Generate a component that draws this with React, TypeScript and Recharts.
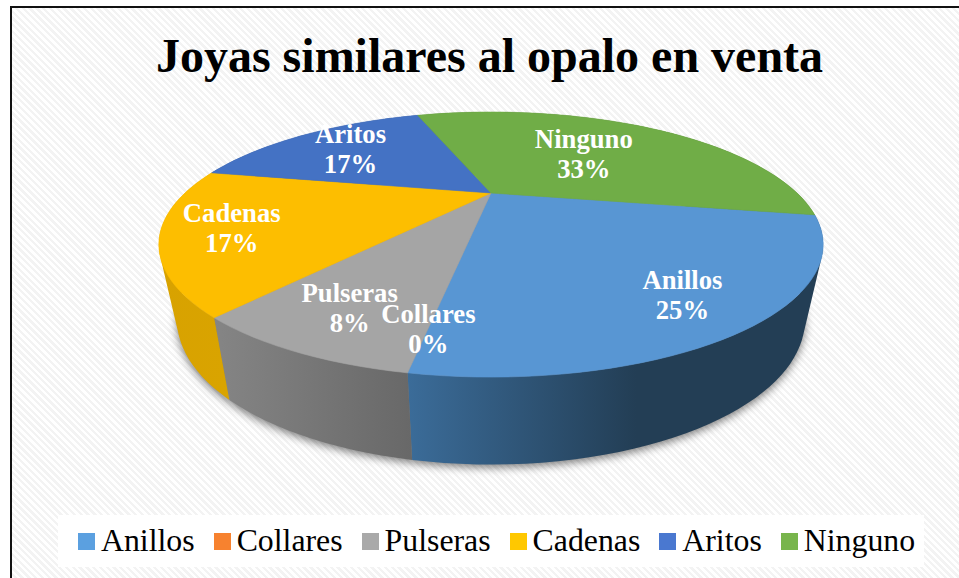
import React from 'react';
import { Legend, Pie, PieChart } from 'recharts';

const categories = ['Anillos', 'Collares', 'Pulseras', 'Cadenas', 'Aritos', 'Ninguno'];
const values = [24.8, 0, 8.2, 17.2, 16.6, 33.2];
const topColors = ['#5896d3', '#ed7d31', '#a5a5a5', '#fdbe00', '#4472c4', '#70ad47'];
const legendColors = ['#5ba0e0', '#f7822f', '#a9a9a9', '#ffc800', '#4a78d0', '#78b54c'];
const wallColors = ['url(#wallBlue)', '#8a4a1c', 'url(#wallGray)', 'url(#wallYellow)', '#2a4475', '#43682b'];
const labelRadius = [0.81, 0.83, 0.8, 0.805, 0.72, 0.54];

const tableData = categories.map((name, i) => ({
  name,
  value: values[i],
  fill: topColors[i],
  wall: wallColors[i],
  legendColor: legendColors[i],
}));

const SERIF = '"Liberation Serif", "Times New Roman", serif';
const RAD = Math.PI / 180;

// perspective of the tilted disc
const TILT = 0.3676;
const NEAR = 0.389;
// lower rim of the disc, relative to the upper one
const WALL_SCALE_X = 0.945;
const WALL_SCALE_Y = 1.09;
const WALL_SHIFT_Y = 53.5;

function project(cx, cy, radius, angle, r = 1) {
  const ux = Math.cos(angle * RAD) * r;
  const uy = -Math.sin(angle * RAD) * r;
  const d = 1 - NEAR * uy;
  return { x: cx + (radius * ux) / d, y: cy + (radius * TILT * uy) / d };
}

function lower(p, cx) {
  return {
    x: cx + (p.x - cx) * WALL_SCALE_X,
    y: p.y * WALL_SCALE_Y + WALL_SHIFT_Y,
  };
}

function rim(props) {
  const { cx, cy, outerRadius, startAngle, endAngle } = props;
  const steps = Math.max(1, Math.ceil(Math.abs(endAngle - startAngle) / 2));
  const pts = [];
  for (let i = 0; i <= steps; i++) {
    pts.push(project(cx, cy, outerRadius, startAngle + ((endAngle - startAngle) * i) / steps));
  }
  return pts;
}

const toPath = (pts) => 'M' + pts.map((p) => `${p.x.toFixed(2)},${p.y.toFixed(2)}`).join('L') + 'Z';

// signed area, used to give every wall quad the same winding
function area(pts) {
  let sum = 0;
  pts.forEach((p, i) => {
    const q = pts[(i + 1) % pts.length];
    sum += p.x * q.y - q.x * p.y;
  });
  return sum;
}

const isEmpty = (props) => Math.abs(props.endAngle - props.startAngle) < 0.01;

const TopFace = (props) => {
  if (isEmpty(props)) return null;
  const pts = rim(props);
  return (
    <path
      d={toPath([{ x: props.cx, y: props.cy }, ...pts])}
      fill={props.fill}
      stroke={props.fill}
      strokeWidth={0.6}
    />
  );
};

const Wall = (props) => {
  if (isEmpty(props)) return null;
  const pts = rim(props);
  const low = pts.map((p) => lower(p, props.cx));
  const quads = [];
  for (let i = 0; i < pts.length - 1; i++) {
    const quad = [pts[i], pts[i + 1], low[i + 1], low[i]];
    quads.push(toPath(area(quad) < 0 ? quad.reverse() : quad));
  }
  return <path d={quads.join('')} fill={props.wall ?? props.payload?.wall} />;
};

// soft shadow, only the lower rim disc so it never shows behind the top face
const Shadow = (props) => {
  if (isEmpty(props)) return null;
  const low = rim(props).map((p) => lower(p, props.cx));
  const centre = lower({ x: props.cx, y: props.cy }, props.cx);
  return (
    <path
      d={toPath([centre, ...low])}
      fill="#000"
      fillOpacity={0.5}
      transform="translate(0,3)"
      filter="url(#pieShadow)"
    />
  );
};

const renderLabel = (props) => {
  const { cx, cy, outerRadius, midAngle, percent, name, index } = props;
  const p = project(cx, cy, outerRadius, midAngle, labelRadius[index]);
  return (
    <text
      x={p.x}
      textAnchor="middle"
      fill="#fff"
      fontFamily={SERIF}
      fontWeight="bold"
      fontSize={26.7}
    >
      <tspan x={p.x} y={p.y - 5}>{name}</tspan>
      <tspan x={p.x} y={p.y + 25}>{`${Math.round(percent * 100)}%`}</tspan>
    </text>
  );
};

const renderLegend = ({ payload }) => {
  // every Pie adds its own entries, keep one per category
  const items = categories.map((name) => (payload ?? []).find((entry) => entry.value === name)).filter(Boolean);
  return (
    <div
      style={{
        display: 'flex',
        alignItems: 'center',
        boxSizing: 'border-box',
        height: 52,
        paddingLeft: 20,
        background: '#fff',
        fontFamily: SERIF,
        fontSize: 31.8,
        color: '#000',
        whiteSpace: 'nowrap',
      }}
    >
      {items.map((entry) => (
        <span key={entry.value} style={{ display: 'flex', alignItems: 'center', marginRight: 19 }}>
          <span
            style={{
              width: 17,
              height: 17,
              marginRight: 6,
              background: entry.payload?.legendColor ?? entry.color,
            }}
          />
          {entry.value}
        </span>
      ))}
    </div>
  );
};

export default function App() {
  return (
    <div style={{ position: 'absolute', left: 0, top: 0, width: 959, height: 578, overflow: 'hidden', background: '#fff' }}>
      <div
        style={{
          position: 'absolute',
          left: 10,
          top: 6,
          width: 960,
          height: 580,
          boxSizing: 'border-box',
          borderLeft: '2px solid #111',
          borderTop: '2px solid #111',
          background: 'repeating-linear-gradient(45deg, #ffffff 0, #ffffff 2.4px, #f3f3f3 2.4px, #f3f3f3 4.8px)',
        }}
      />
      <div
        style={{
          position: 'absolute',
          left: 0,
          top: 26,
          width: 979,
          textAlign: 'center',
          fontFamily: SERIF,
          fontWeight: 'bold',
          fontSize: 48,
          lineHeight: '60px',
          color: '#000',
        }}
      >
        Joyas similares al opalo en venta
      </div>
      <div style={{ position: 'absolute', left: 0, top: 0 }}>
        <PieChart width={959} height={578} margin={{ top: 0, right: 0, bottom: 0, left: 0 }}>
          <defs>
            <linearGradient id="wallBlue" x1="0" y1="0" x2="1" y2="0">
              <stop offset="0%" stopColor="#3b6c99" />
              <stop offset="55%" stopColor="#233e55" />
              <stop offset="100%" stopColor="#233e55" />
            </linearGradient>
            <linearGradient id="wallGray" x1="0" y1="0" x2="1" y2="0">
              <stop offset="0%" stopColor="#858585" />
              <stop offset="100%" stopColor="#686868" />
            </linearGradient>
            <linearGradient id="wallYellow" x1="0" y1="0" x2="1" y2="0">
              <stop offset="0%" stopColor="#d8a200" />
              <stop offset="100%" stopColor="#d9a400" />
            </linearGradient>
            <filter id="pieShadow" x="-30%" y="-30%" width="160%" height="160%">
              <feGaussianBlur stdDeviation="4" />
            </filter>
          </defs>
          <Pie
            data={tableData}
            dataKey="value"
            nameKey="name"
            cx={491}
            cy={193}
            outerRadius={306}
            startAngle={-10.4}
            endAngle={-370.4}
            stroke="none"
            legendType="none"
            shape={Shadow}
            isAnimationActive={false}
          />
          <Pie
            data={tableData}
            dataKey="value"
            nameKey="name"
            cx={491}
            cy={193}
            outerRadius={306}
            startAngle={-10.4}
            endAngle={-370.4}
            stroke="none"
            legendType="none"
            shape={Wall}
            isAnimationActive={false}
          />
          <Pie
            data={tableData}
            dataKey="value"
            nameKey="name"
            cx={491}
            cy={193}
            outerRadius={306}
            startAngle={-10.4}
            endAngle={-370.4}
            stroke="none"
            legendType="square"
            shape={TopFace}
            label={renderLabel}
            labelLine={false}
            isAnimationActive={false}
          />
          <Legend
            content={renderLegend}
            wrapperStyle={{ position: 'absolute', left: 58, top: 515, width: 866, height: 52, bottom: 'auto' }}
          />
        </PieChart>
      </div>
    </div>
  );
}
